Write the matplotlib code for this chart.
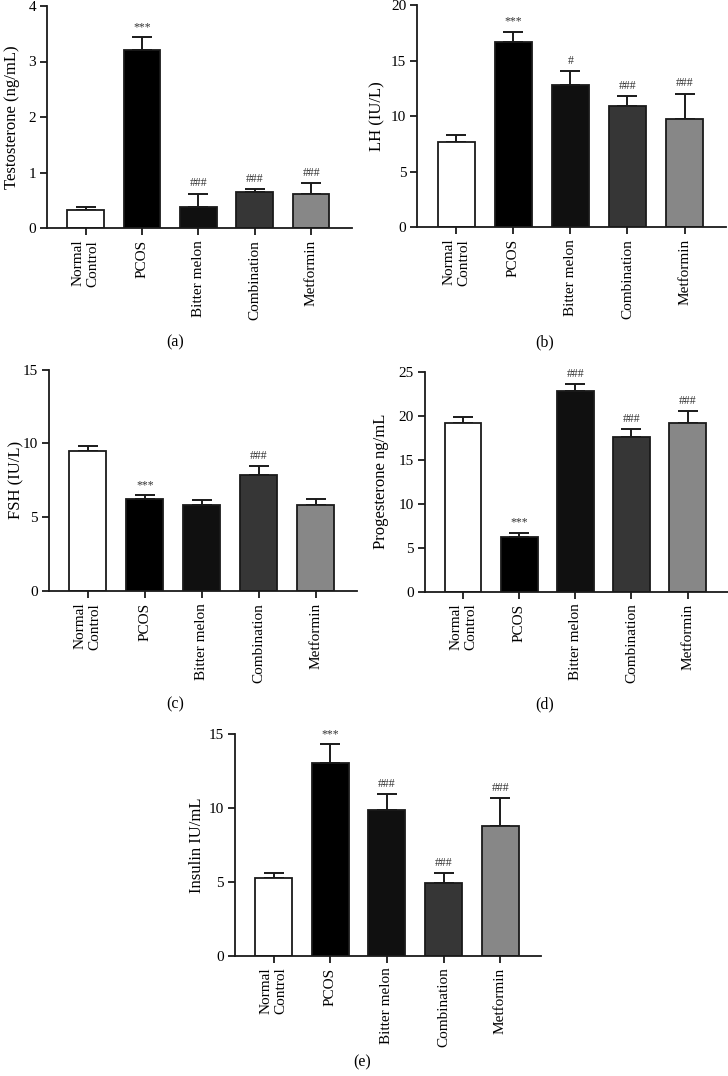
import matplotlib
matplotlib.use("Agg")
import matplotlib.pyplot as plt
import numpy as np

plt.rcParams['font.family'] = ['Liberation Serif', 'DejaVu Serif']

groups = ["Normal\nControl", "PCOS", "Bitter melon", "Combination", "Metformin"]
colors = ["#ffffff", "#000000", "#101010", "#363636", "#878787"]

testosterone = [0.33, 3.20, 0.37, 0.64, 0.61]
testosterone_err = [0.05, 0.24, 0.25, 0.06, 0.20]
testosterone_sig = ["", "***", "###", "###", "###"]

lh = [7.70, 16.72, 12.84, 10.95, 9.77]
lh_err = [0.63, 0.88, 1.26, 0.85, 2.26]
lh_sig = ["", "***", "#", "###", "###"]

fsh = [9.49, 6.21, 5.85, 7.86, 5.83]
fsh_err = [0.36, 0.27, 0.29, 0.63, 0.42]
fsh_sig = ["", "***", "", "###", ""]

progesterone = [19.17, 6.25, 22.84, 17.60, 19.17]
progesterone_err = [0.70, 0.45, 0.76, 0.85, 1.40]
progesterone_sig = ["", "***", "###", "###", "###"]

insulin = [5.28, 13.08, 9.85, 4.95, 8.81]
insulin_err = [0.32, 1.24, 1.08, 0.63, 1.85]
insulin_sig = ["", "***", "###", "###", "###"]

W, H = 728, 1076
fig = plt.figure(figsize=(W / 100, H / 100), dpi=100)


def make_panel(rect_px, values, errs, sigs, ylabel, ymax, yticks, letter, letter_xy, ylab_off):
    left, right, top, bottom = rect_px
    ax = fig.add_axes([left / W, 1 - bottom / H, (right - left) / W, (bottom - top) / H])
    x = np.arange(len(groups))
    ax.bar(x, values, width=0.65, color=colors, edgecolor="#1a1a1a", linewidth=1.3, zorder=2)
    ax.errorbar(x, values, yerr=[np.zeros(len(values)), errs], fmt="none",
                ecolor="#1a1a1a", elinewidth=1.4, capsize=7, capthick=1.4, zorder=1)
    for xi, v, e, s in zip(x, values, errs, sigs):
        if s:
            ax.annotate(s, (xi, v + e), xytext=(0, 3), textcoords="offset points",
                        ha="center", va="bottom", fontsize=8.5, color="#333333")
    ax.set_xlim(-0.68, 4.72)
    ax.set_ylim(0, ymax)
    ax.set_yticks(yticks)
    ax.set_yticklabels([str(t) for t in yticks], fontsize=11)
    ax.set_xticks(x)
    ax.set_xticklabels(groups, rotation=90, fontsize=11, ha="center", va="top",
                       multialignment="right")
    ax.spines["top"].set_visible(False)
    ax.spines["right"].set_visible(False)
    for sp in ("left", "bottom"):
        ax.spines[sp].set_linewidth(1.3)
        ax.spines[sp].set_color("#1a1a1a")
    ax.tick_params(axis="both", direction="out", length=5, width=1.3, color="#1a1a1a")
    ax.tick_params(axis="y", pad=3)
    ax.set_ylabel(ylabel, fontsize=12)
    ax.yaxis.label.set_verticalalignment("center")
    ax.yaxis.set_label_coords(-ylab_off / (right - left), 0.5)
    fig.text(letter_xy[0] / W, 1 - letter_xy[1] / H, letter, ha="center", va="center", fontsize=11.5)
    return ax


make_panel((47.3, 351.7, 6, 228), testosterone, testosterone_err, testosterone_sig,
           "Testosterone (ng/mL)", 4, [0, 1, 2, 3, 4], "(a)", (175, 342), 35)
make_panel((417.3, 725.7, 5.3, 227), lh, lh_err, lh_sig,
           "LH (IU/L)", 20, [0, 5, 10, 15, 20], "(b)", (545, 342), 40)
make_panel((49, 357, 369.7, 591), fsh, fsh_err, fsh_sig,
           "FSH (IU/L)", 15, [0, 5, 10, 15], "(c)", (175, 704), 33)
make_panel((425, 728, 371.7, 591.7), progesterone, progesterone_err, progesterone_sig,
           "Progesterone ng/mL", 25, [0, 5, 10, 15, 20, 25], "(d)", (545, 704), 44)
make_panel((235, 541, 734.3, 955.7), insulin, insulin_err, insulin_sig,
           "Insulin IU/mL", 15, [0, 5, 10, 15], "(e)", (362, 1062), 38)

fig.savefig("out.png", dpi=100)
